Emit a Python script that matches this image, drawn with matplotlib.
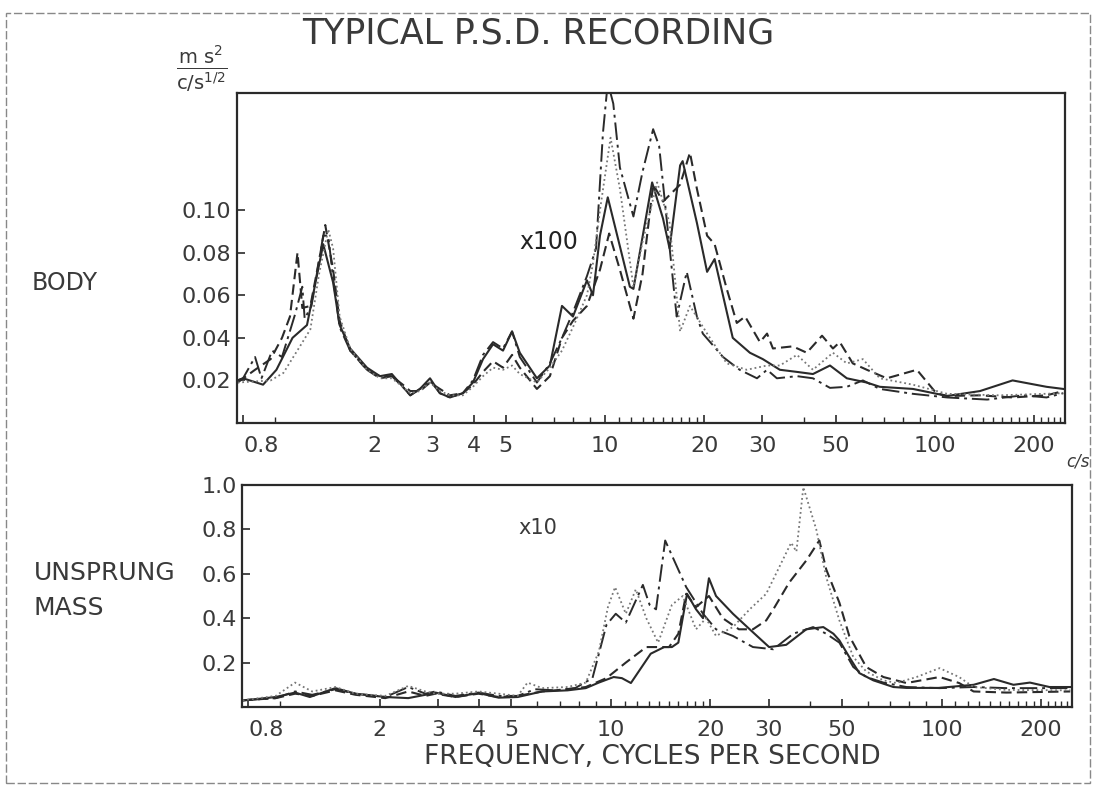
import numpy as np
import matplotlib.pyplot as plt
from matplotlib.ticker import FixedLocator, NullFormatter
from matplotlib.patches import Rectangle

# ---- BODY (x100) ----
body_solid_f = [0.77, 0.80, 0.92, 1.01, 1.13, 1.25, 1.40, 1.50, 1.57, 1.69, 1.90, 2.08, 2.26, 2.44, 2.57,
                2.75, 2.95, 3.16, 3.39, 3.71, 3.98, 4.27, 4.58, 4.91, 5.23, 5.52, 6.22, 6.81, 7.41, 8.0,
                8.82, 9.20, 9.66, 10.2, 11.1, 11.9, 12.2, 13.9, 15.0, 15.7, 16.9, 17.2, 19.0, 20.4, 21.5,
                24.4, 27.5, 30.1, 33.9, 38.2, 42.7, 48.1, 54.1, 62.2, 68.1, 85.8, 109, 137, 172, 218, 245]
body_solid_v = [0.020, 0.021, 0.018, 0.025, 0.040, 0.046, 0.084, 0.066, 0.046, 0.035, 0.026, 0.022, 0.023, 0.017, 0.013,
                0.016, 0.021, 0.014, 0.012, 0.014, 0.019, 0.030, 0.037, 0.034, 0.043, 0.033, 0.021, 0.027, 0.055, 0.050,
                0.067, 0.060, 0.088, 0.106, 0.083, 0.064, 0.063, 0.113, 0.096, 0.082, 0.121, 0.123, 0.094, 0.071, 0.077,
                0.040, 0.033, 0.030, 0.025, 0.024, 0.023, 0.027, 0.021, 0.019, 0.017, 0.016, 0.0127, 0.015, 0.020, 0.017, 0.016]

body_dashed_f = [0.77, 0.87, 0.97, 1.05, 1.11, 1.17, 1.21, 1.28, 1.37, 1.42, 1.50, 1.57, 1.69, 1.90, 2.08,
                 2.26, 2.44, 2.57, 2.75, 2.95, 3.16, 3.39, 3.71, 3.98, 4.27, 4.58, 4.91, 5.23, 5.52, 6.22,
                 6.81, 7.41, 8.0, 8.82, 9.66, 10.3, 11.1, 12.2, 13.0, 14.0, 15.0, 16.9, 18.1, 19.0, 20.4,
                 21.5, 23.4, 25.1, 26.6, 29.5, 31.0, 32.3, 37.1, 40.9, 45.5, 49.1, 51.5, 56.4, 62.2, 71.5,
                 88.2, 101, 109, 137, 172, 218, 245]
body_dashed_v = [0.019, 0.025, 0.030, 0.040, 0.050, 0.080, 0.054, 0.055, 0.079, 0.093, 0.072, 0.048, 0.034, 0.025, 0.021,
                 0.022, 0.018, 0.015, 0.015, 0.019, 0.016, 0.013, 0.014, 0.018, 0.024, 0.029, 0.026, 0.032, 0.026, 0.016,
                 0.022, 0.040, 0.048, 0.055, 0.072, 0.089, 0.072, 0.049, 0.070, 0.112, 0.104, 0.112, 0.127, 0.110, 0.088,
                 0.084, 0.063, 0.047, 0.050, 0.038, 0.042, 0.035, 0.036, 0.033, 0.041, 0.035, 0.038, 0.028, 0.025, 0.021,
                 0.025, 0.014, 0.0127, 0.013, 0.012, 0.013, 0.015]

body_dashdot_f = [0.77, 0.80, 0.87, 0.91, 0.98, 1.05, 1.15, 1.21, 1.23, 1.29, 1.40, 1.45, 1.50, 1.57, 1.69,
                  1.90, 2.08, 2.26, 2.44, 2.57, 2.75, 2.95, 3.16, 3.39, 3.71, 3.98, 4.27, 4.58, 4.91, 5.23,
                  5.52, 6.22, 6.81, 7.41, 8.0, 8.82, 9.40, 9.86, 10.2, 10.6, 11.1, 12.2, 13.0, 14.0, 14.6,
                  16.5, 17.7, 19.0, 19.8, 22.8, 25.6, 28.9, 31.0, 33.2, 38.2, 42.7, 48.1, 54.1, 60.5, 68.1,
                  85.8, 109, 144, 185, 218, 245]
body_dashdot_v = [0.020, 0.021, 0.031, 0.021, 0.034, 0.031, 0.051, 0.064, 0.049, 0.055, 0.088, 0.088, 0.068, 0.045, 0.034,
                  0.025, 0.022, 0.022, 0.017, 0.013, 0.016, 0.020, 0.014, 0.012, 0.014, 0.020, 0.032, 0.038, 0.035, 0.043,
                  0.031, 0.019, 0.028, 0.040, 0.052, 0.069, 0.082, 0.136, 0.160, 0.150, 0.120, 0.097, 0.118, 0.138, 0.130,
                  0.050, 0.071, 0.050, 0.042, 0.031, 0.025, 0.021, 0.025, 0.021, 0.022, 0.021, 0.0165, 0.017, 0.020, 0.016,
                  0.0137, 0.012, 0.011, 0.013, 0.012, 0.014]

body_dotted_f = [0.77, 0.97, 1.06, 1.19, 1.28, 1.36, 1.45, 1.50, 1.57, 1.69, 1.90, 2.08, 2.26, 2.44, 2.57,
                 2.75, 2.95, 3.16, 3.39, 3.71, 3.98, 4.27, 4.58, 4.91, 5.23, 5.52, 6.22, 6.81, 7.41, 8.0,
                 8.82, 9.20, 9.66, 10.4, 11.1, 12.2, 13.0, 14.4, 15.7, 16.9, 18.1, 20.4, 23.4, 26.9, 31.0,
                 33.9, 38.2, 42.7, 49.1, 54.1, 60.5, 68.1, 85.8, 109, 157, 245]
body_dotted_v = [0.019, 0.020, 0.0235, 0.036, 0.044, 0.070, 0.091, 0.082, 0.050, 0.035, 0.025, 0.021, 0.021, 0.017, 0.014,
                 0.015, 0.019, 0.015, 0.013, 0.013, 0.017, 0.022, 0.026, 0.025, 0.027, 0.023, 0.019, 0.026, 0.034, 0.045,
                 0.060, 0.075, 0.100, 0.134, 0.110, 0.064, 0.085, 0.113, 0.094, 0.043, 0.055, 0.042, 0.028, 0.025, 0.027,
                 0.027, 0.032, 0.025, 0.033, 0.028, 0.030, 0.021, 0.018, 0.0137, 0.013, 0.014]

# ---- UNSPRUNG MASS (x10) ----
mass_solid_f = [0.77, 0.84, 0.97, 1.11, 1.23, 1.47, 1.69, 2.08, 2.44, 2.75, 2.95, 3.39, 3.98, 4.58, 5.23,
                6.2, 7.4, 8.4, 9.2, 10.2, 10.8, 11.5, 13.2, 14.5, 15.3, 16.0, 17.0, 18.1, 19.0, 19.8,
                20.8, 23.4, 26.3, 30.1, 33.9, 39.0, 43.9, 47.1, 49.1, 52.6, 56.4, 62.2, 71.5, 78.3, 98,
                125, 144, 165, 185, 212, 245]
mass_solid_v = [0.03, 0.035, 0.045, 0.065, 0.045, 0.085, 0.060, 0.045, 0.040, 0.055, 0.065, 0.045, 0.063, 0.042, 0.045,
                0.070, 0.075, 0.085, 0.110, 0.135, 0.130, 0.108, 0.24, 0.27, 0.27, 0.29, 0.51, 0.44, 0.40, 0.58,
                0.50, 0.42, 0.35, 0.27, 0.28, 0.35, 0.36, 0.33, 0.30, 0.225, 0.153, 0.12, 0.09, 0.086, 0.086,
                0.10, 0.126, 0.10, 0.11, 0.09, 0.09]

mass_dashed_f = [0.77, 0.97, 1.11, 1.25, 1.47, 1.69, 2.08, 2.44, 2.75, 2.95, 3.39, 3.98, 4.58, 5.23, 6.2,
                 7.4, 8.4, 9.7, 11.1, 12.8, 15.0, 16.0, 16.9, 18.1, 19.8, 21.8, 24.4, 26.9, 29.5, 31.0,
                 34.6, 39.0, 42.7, 44.8, 49.1, 52.6, 59.2, 66.7, 78.3, 98.6, 113, 125, 157, 245]
mass_dashed_v = [0.03, 0.04, 0.06, 0.05, 0.075, 0.055, 0.04, 0.07, 0.05, 0.06, 0.045, 0.06, 0.045, 0.05, 0.07,
                 0.08, 0.09, 0.13, 0.20, 0.27, 0.27, 0.33, 0.51, 0.45, 0.50, 0.40, 0.35, 0.35, 0.39, 0.44,
                 0.56, 0.66, 0.75, 0.62, 0.47, 0.32, 0.18, 0.135, 0.108, 0.135, 0.108, 0.07, 0.065, 0.07]

mass_dashdot_f = [0.77, 0.97, 1.11, 1.25, 1.47, 1.69, 2.08, 2.44, 2.75, 2.95, 3.39, 3.98, 4.58, 5.23, 5.9,
                  6.8, 7.8, 8.8, 9.7, 10.35, 11.1, 12.5, 13.1, 13.7, 14.6, 16.9, 19.0, 20.8, 23.4, 26.9,
                  31.0, 35.6, 40.9, 44.8, 49.1, 54.1, 59.2, 66.7, 78.3, 98.6, 125, 157, 245]
mass_dashdot_v = [0.03, 0.04, 0.07, 0.055, 0.08, 0.06, 0.045, 0.09, 0.06, 0.07, 0.05, 0.065, 0.05, 0.05, 0.08,
                  0.075, 0.085, 0.13, 0.37, 0.42, 0.38, 0.55, 0.46, 0.44, 0.75, 0.54, 0.42, 0.35, 0.32, 0.27,
                  0.26, 0.33, 0.36, 0.33, 0.29, 0.18, 0.135, 0.11, 0.09, 0.085, 0.09, 0.085, 0.085]

mass_dotted_f = [0.77, 0.97, 1.11, 1.25, 1.47, 1.69, 2.08, 2.44, 2.75, 2.95, 3.39, 3.98, 4.58, 5.23, 5.6,
                 6.2, 7.4, 8.4, 9.2, 9.8, 10.3, 11.1, 11.9, 12.8, 13.9, 15.3, 16.5, 18.1, 19.4, 20.8,
                 23.4, 26.3, 29.5, 32.3, 35.1, 36.4, 38.2, 41.8, 44.8, 49.1, 54.1, 59.2, 66.7, 73, 84,
                 98.6, 113, 125, 157, 245]
mass_dotted_v = [0.03, 0.05, 0.11, 0.07, 0.09, 0.06, 0.05, 0.095, 0.07, 0.06, 0.06, 0.07, 0.06, 0.05, 0.11,
                 0.085, 0.09, 0.11, 0.25, 0.45, 0.54, 0.42, 0.53, 0.40, 0.29, 0.46, 0.50, 0.35, 0.40, 0.32,
                 0.36, 0.44, 0.51, 0.63, 0.74, 0.70, 0.99, 0.80, 0.585, 0.39, 0.225, 0.16, 0.12, 0.108, 0.135,
                 0.175, 0.135, 0.09, 0.077, 0.075]

major_f = [0.8, 2, 3, 4, 5, 10, 20, 30, 50, 100, 200]
major_labels = ['0.8', '2', '3', '4', '5', '10', '20', '30', '50', '100', '200']
minor_f = [1, 6, 7, 8, 9, 11, 12, 13, 14, 15, 16, 17, 18, 19, 40, 60, 70, 80, 90,
           110, 120, 130, 140, 150, 160, 170, 180, 190, 210, 220, 230, 240]

ink = '#2a2a2a'
txt = '#3a3a3a'
styles = {
    'solid': dict(ls='-', lw=1.5, color=ink),
    'dashed': dict(ls=(0, (5, 2.5)), lw=1.5, color=ink),
    'dashdot': dict(ls=(0, (9, 2.5, 1.5, 2.5)), lw=1.4, color=ink),
    'dotted': dict(ls=(0, (1, 1.6)), lw=1.3, color='#777777'),
}

fig = plt.figure(figsize=(10.94, 7.87), dpi=100)
ax1 = fig.add_axes([237/1094, 1-423/787, 828/1094, 330/787])
ax2 = fig.add_axes([242/1094, 1-707/787, 830/1094, 222/787])

ax1.plot(body_solid_f, body_solid_v, **styles['solid'])
ax1.plot(body_dashed_f, body_dashed_v, **styles['dashed'])
ax1.plot(body_dashdot_f, body_dashdot_v, **styles['dashdot'])
ax1.plot(body_dotted_f, body_dotted_v, **styles['dotted'])

ax2.plot(mass_solid_f, mass_solid_v, **styles['solid'])
ax2.plot(mass_dashed_f, mass_dashed_v, **styles['dashed'])
ax2.plot(mass_dashdot_f, mass_dashdot_v, **styles['dashdot'])
ax2.plot(mass_dotted_f, mass_dotted_v, **styles['dotted'])

for ax in (ax1, ax2):
    ax.set_xscale('log')
    ax.set_xlim(0.767, 248)
    ax.xaxis.set_major_locator(FixedLocator(major_f))
    ax.set_xticklabels(major_labels)
    ax.get_xticklabels()[0].set_ha('left')
    ax.xaxis.set_minor_locator(FixedLocator(minor_f))
    ax.xaxis.set_minor_formatter(NullFormatter())
    ax.tick_params(axis='x', which='major', direction='in', length=6, width=1.2,
                   labelsize=16, labelcolor=txt, pad=9, color=ink)
    ax.tick_params(axis='x', which='minor', direction='in', length=4, width=1, color=ink)
    ax.tick_params(axis='y', direction='in', length=6, width=1.2, labelsize=16,
                   labelcolor=txt, pad=4, color=ink)
    for s in ax.spines.values():
        s.set_linewidth(1.6)
        s.set_color(ink)

ax1.set_ylim(0, 0.155)
ax1.set_yticks([0.02, 0.04, 0.06, 0.08, 0.10])
ax1.set_yticklabels(['0.02', '0.04', '0.06', '0.08', '0.10'])

ax2.set_ylim(0, 1.0)
ax2.set_yticks([0.2, 0.4, 0.6, 0.8, 1.0])
ax2.set_yticklabels(['0.2', '0.4', '0.6', '0.8', '1.0'])

ax1.text(549/1094, 1-242/787, 'x100', transform=fig.transFigure, ha='center', va='center',
         fontsize=17, color='#222222')
ax2.text(538/1094, 1-528/787, 'x10', transform=fig.transFigure, ha='center', va='center',
         fontsize=15, color=txt)

fig.text(538/1094, 1-34/787, 'TYPICAL P.S.D. RECORDING', ha='center', va='center',
         fontsize=25, color=txt)
fig.text(176/1094, 1-69/787, r'$\frac{\mathrm{m\ s}^{2}}{\mathrm{c/s}^{1/2}}$', ha='left', va='center',
         fontsize=20, color=txt)
fig.text(1066/1094, 1-462/787, 'c/s', ha='left', va='center', fontsize=12, style='italic', color=txt)
fig.text(32/1094, 1-283/787, 'BODY', ha='left', va='center', fontsize=17, color=txt)
fig.text(34/1094, 1-573/787, 'UNSPRUNG', ha='left', va='center', fontsize=18, color=txt)
fig.text(34/1094, 1-608/787, 'MASS', ha='left', va='center', fontsize=18, color=txt)
fig.text(652/1094, 1-757/787, 'FREQUENCY, CYCLES PER SECOND', ha='center', va='center',
         fontsize=19, color=txt)

fig.patches.append(Rectangle((6/1094, 1-783/787), 1084/1094, 770/787, transform=fig.transFigure,
                             fill=False, lw=1.0, ec='#888888', ls=(0, (6, 2))))

fig.savefig('out.png', dpi=100)
